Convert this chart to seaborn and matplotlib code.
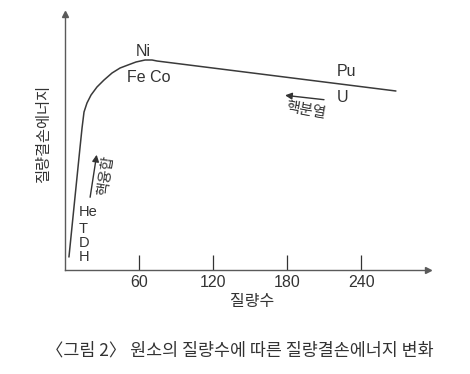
import matplotlib
matplotlib.use("Agg")
import matplotlib.pyplot as plt
import seaborn as sns
import pandas as pd

# Data (mass number vs. mass-defect energy, arbitrary units)
mass = [3.2, 8.1, 12.2, 13.8, 15.4, 17.8, 21.1, 25.9, 31.6, 38.1, 44.6, 51.0, 57.5, 64.8, 70.5, 74.5, 268]
energy = [13, 73, 123, 142, 158, 167, 175, 183, 190, 197, 202, 205, 208, 210, 210, 209, 179]
xticks = [60, 120, 180, 240]
xtick_labels = ["60", "120", "180", "240"]
light_elements = ["He", "T", "D", "H"]
x_label = "질량수"
y_label = "질량결손에너지"
caption = "〈그림 2〉 원소의 질량수에 따른 질량결손에너지 변화"

sns.set_theme(style="white")
plt.rcParams["font.family"] = ["Liberation Sans Narrow", "Liberation Sans", "Noto Sans CJK KR", "DejaVu Sans"]
KR = ["Noto Sans CJK KR", "DejaVu Sans"]

ink = "#333333"
axc = "#5a5a5a"

fig = plt.figure(figsize=(4.7, 3.74), dpi=100)
ax = fig.add_axes([65 / 470, 104 / 374, 363 / 470, 256 / 374])

df = pd.DataFrame({"mass": mass, "energy": energy})
sns.lineplot(data=df, x="mass", y="energy", ax=ax, color="#3a3a3a", linewidth=1.1,
             estimator=None, sort=False)

ax.set_xlim(0, 294)
ax.set_ylim(0, 256)

for s in ["top", "right"]:
    ax.spines[s].set_visible(False)
for s in ["left", "bottom"]:
    ax.spines[s].set_color(axc)
    ax.spines[s].set_linewidth(1.0)
ax.plot(1, 0, ">", transform=ax.transAxes, clip_on=False, ms=5, color=axc)
ax.plot(0, 1, "^", transform=ax.transAxes, clip_on=False, ms=5, color=axc)

ax.set_xticks(xticks)
ax.set_xticklabels(xtick_labels)
ax.set_yticks([])
ax.tick_params(axis="x", direction="in", length=10.8, width=0.9, color=ink,
               pad=3.5, labelsize=11.5, labelcolor=ink, bottom=True)

ax.set_xlabel(x_label, fontsize=11.5, color=ink, family=KR)
ax.xaxis.set_label_coords(0.515, -0.09)
ax.set_ylabel(y_label, fontsize=11, color=ink, family=KR)
ax.yaxis.set_label_coords(-0.058, 0.531)
ax.yaxis.label.set_verticalalignment("center")

# element labels
ax.text(63, 219, "Ni", ha="center", va="center", fontsize=11.5, color=ink)
ax.text(68, 193, "Fe Co", ha="center", va="center", fontsize=11.5, color=ink)
ax.text(220, 198, "Pu", ha="left", va="center", fontsize=11.5, color=ink)
ax.text(220, 173, "U", ha="left", va="center", fontsize=11.5, color=ink)
for lbl, yv in zip(light_elements, [58, 41, 27, 13]):
    ax.text(11.3, yv, lbl, ha="left", va="center", fontsize=10.5, color=ink)

# fusion arrow + text
ax.annotate("", xy=(26, 118), xytext=(20, 70),
            arrowprops=dict(arrowstyle="-|>", color=ink, lw=1.0, mutation_scale=10))
ax.text(33.5, 95, "핵융합", rotation=82, ha="center", va="center", fontsize=10.5,
        color=ink, family=KR)

# fission arrow + text
ax.annotate("", xy=(176, 175), xytext=(212, 170),
            arrowprops=dict(arrowstyle="-|>", color=ink, lw=1.0, mutation_scale=10))
ax.text(195, 159, "핵분열", rotation=-10, ha="center", va="center", fontsize=10.5,
        color=ink, family=KR)

fig.text(0.51, 0.064, caption, ha="center", va="center", fontsize=12.5,
         color=ink, family=["Noto Sans CJK KR", "DejaVu Sans"])

fig.savefig("out.png", dpi=100, facecolor="white")
